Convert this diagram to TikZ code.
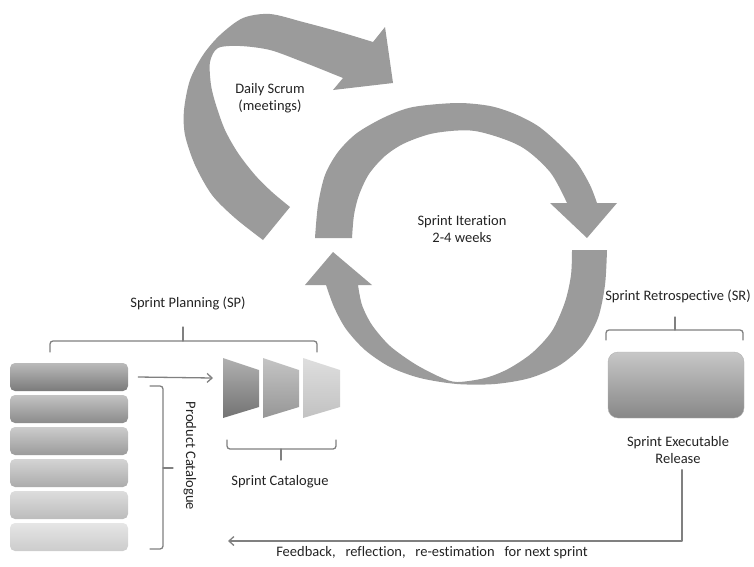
\documentclass[tikz,border=0pt]{standalone}
\usepackage{fontspec}
\setmainfont{Carlito}[Ligatures=NoCommon]
\usetikzlibrary{arrows.meta}
\definecolor{arcgray}{RGB}{155,155,155}
\definecolor{linegray}{RGB}{128,128,128}
\definecolor{txtgray}{RGB}{35,35,35}
\begin{document}
\begin{tikzpicture}[x=1pt,y=-1pt,line cap=round,line join=round,
  lbl/.style={text=txtgray,font=\fontsize{14.5}{17}\selectfont,align=center,inner sep=0pt},
  bracket/.style={draw=linegray,line width=1.3pt,rounded corners=3pt},
  flow/.style={draw=linegray,line width=1.3pt,-{Straight Barb[length=5pt,width=9pt]}},
  backlog/.style={minimum width=118pt,minimum height=28pt,rounded corners=5pt,inner sep=0pt}]
\useasboundingbox (0,0) rectangle (754,566);
% daily scrum arrow
\fill[arcgray] plot[smooth] coordinates {(263,240) (235,218) (212,195) (195,165) (185,135) (184,110) (190,80) (203,55) (220,35) (243,18) (270,14) (303,22) (340,32) (373,42)}
  -- (385,27) -- (393,83) -- (333,90) -- (343,78)
  -- plot[smooth] coordinates {(343,78) (303,62) (270,50) (240,46) (218,48) (210,62) (211,85) (216,105) (225,130) (238,153) (255,175) (272,192) (290,207)} -- cycle;
% sprint iteration, upper half
\fill[arcgray] plot[smooth] coordinates {(315,238) (318,205) (325,175) (338,152) (357,133) (385,117) (413,107) (457,103) (490,106) (515,114) (538,126) (558,143) (577,163) (590,185) (597,203)}
  -- (617,203) -- (587,238) -- (550,203) -- (567,203)
  -- plot[smooth] coordinates {(567,203) (550,172) (520,146) (475,131) (435,133) (405,143) (385,156) (369,174) (359,195) (354,215) (352,238)} -- cycle;
% sprint iteration, lower half
\fill[arcgray] plot[smooth] coordinates {(607,250) (605,285) (598,318) (583,345) (560,365) (530,378) (495,384) (457,384) (420,378) (390,367) (365,350) (346,329) (334,307) (326,285)}
  -- (305,285) -- (333,252) -- (372,285) -- (358,285)
  -- plot[smooth] coordinates {(358,285) (362,305) (372,325) (390,346) (415,364) (440,377) (457,382) (485,378) (508,369) (532,353) (552,331) (565,302) (571,275) (572,250)} -- cycle;
\node[lbl] (scrum) at (270,98) {Daily Scrum\\(meetings)};
\node[lbl] (iter) at (462,229) {Sprint Iteration\\2-4 weeks};
% sprint planning
\node[lbl] (plan) at (188,303) {Sprint Planning (SP)};
\draw[bracket] (50,352) -- (50,341) -- (317,341) -- (317,352);
\draw[bracket] (183,341) -- (183,327);
\foreach \i in {0,...,5}{
  \pgfmathsetmacro{\tc}{27-3.4*\i}
  \pgfmathsetmacro{\bc}{52-6.4*\i}
  \node[backlog,top color=black!\tc,bottom color=black!\bc] (bar\i) at (69,{377+32*\i}) {};
}
\draw[bracket] (150,386) -- (163,386) -- (163,549) -- (150,549);
\draw[bracket] (163,468) -- (173,468);
\node[lbl,rotate=-90] (prod) at (190,456) {Product Catalogue};
\coordinate (catin) at (213,378);
\draw[flow] ([xshift=10pt]bar0.east) -- (catin);
\shade[top color=black!31,bottom color=black!55] (223,358) -- (259,370) -- (259,407) -- (223,418) -- cycle;
\shade[top color=black!23,bottom color=black!41] (263,358) -- (299,370) -- (299,407) -- (263,418) -- cycle;
\shade[top color=black!13,bottom color=black!24] (303,358) -- (340,370) -- (340,407) -- (303,418) -- cycle;
\draw[bracket] (227,440) -- (227,449) -- (336,449) -- (336,440);
\draw[bracket] (281,449) -- (281,460);
\node[lbl] (cat) at (280,482) {Sprint Catalogue};
% sprint retrospective
\node[lbl] (retro) at (678,296) {Sprint Retrospective (SR)};
\draw[bracket] (606,340) -- (606,330) -- (743,330) -- (743,340);
\draw[bracket] (675,330) -- (675,317);
\node[minimum width=136pt,minimum height=66pt,rounded corners=10pt,draw=black!30,top color=black!22,bottom color=black!47] (exe) at (676,385) {};
\node[lbl] (release) at (678,450) {Sprint Executable\\Release};
\coordinate (fbend) at (228,541);
\draw[flow] ([xshift=4pt,yshift=-6pt]release.south) |- (fbend);
\node[lbl] (fb) at (432,553) {Feedback,\ \ \ reflection,\ \ \ re-estimation\ \ \ for next sprint};
\end{tikzpicture}
\end{document}
